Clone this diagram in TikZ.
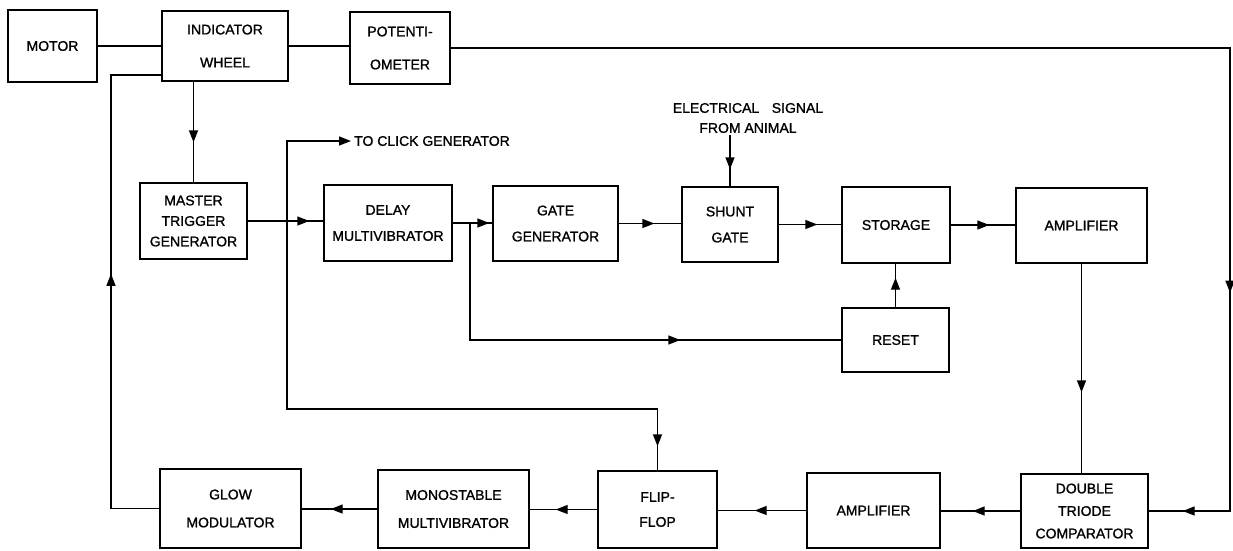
\documentclass[tikz,border=0pt]{standalone}
\usepackage{fontspec}
\setmainfont{Liberation Sans}[FakeBold=1.2]
\usetikzlibrary{arrows.meta,decorations.markings}
\begin{document}
\begin{tikzpicture}[x=1pt,y=-1pt,
  box/.style={draw, line width=1.4pt, inner sep=0pt, align=center,
              font=\fontsize{14}{26}\selectfont},
  wire/.style={line width=1.4pt},
  arr/.style={wire, postaction={decorate},
     decoration={markings, mark=at position #1 with {\arrow{Triangle[length=12pt,width=9pt]}}}},
  arrtwo/.style 2 args={wire, postaction={decorate},
     decoration={markings,
       mark=at position #1 with {\arrow{Triangle[length=12pt,width=9pt]}},
       mark=at position #2 with {\arrow{Triangle[length=12pt,width=9pt]}}}},
  lbl/.style={inner sep=2pt, align=center, font=\fontsize{14}{20}\selectfont}
]
\useasboundingbox (0,0) rectangle (1233,550);

% top row
\node[box, minimum width=89pt, minimum height=72pt] (motor) at (52.5,46) {MOTOR};
\node[box, minimum width=126pt, minimum height=70pt, font=\fontsize{14}{33}\selectfont] (indw) at (225,46) {INDICATOR\\WHEEL};
\node[box, minimum width=100pt, minimum height=72pt, font=\fontsize{14}{33}\selectfont] (pot) at (400,48) {POTENTI-\\OMETER};

% middle row
\node[box, minimum width=107pt, minimum height=76pt, font=\fontsize{14}{20.5}\selectfont] (master) at (193.5,221) {MASTER\\TRIGGER\\GENERATOR};
\node[box, minimum width=128pt, minimum height=76pt] (delay) at (388,223) {DELAY\\MULTIVIBRATOR};
\node[box, minimum width=125pt, minimum height=75pt] (gate) at (555.5,223.5) {GATE\\GENERATOR};
\node[box, minimum width=96pt, minimum height=75pt] (shunt) at (730,224.5) {SHUNT\\GATE};
\node[box, minimum width=108pt, minimum height=76pt] (storage) at (896,225) {STORAGE};
\node[box, minimum width=131pt, minimum height=75pt] (amp1) at (1081.5,225.5) {AMPLIFIER};
\node[box, minimum width=107pt, minimum height=64pt] (reset) at (895.5,340) {RESET};

% bottom row
\node[box, minimum width=141pt, minimum height=79pt, font=\fontsize{14}{28}\selectfont] (glow) at (230.5,508.5) {GLOW\\MODULATOR};
\node[box, minimum width=151pt, minimum height=78pt, font=\fontsize{14}{28}\selectfont] (mono) at (453.5,509) {MONOSTABLE\\MULTIVIBRATOR};
\node[box, minimum width=119pt, minimum height=77pt, font=\fontsize{14}{25}\selectfont] (flip) at (657.5,509.5) {FLIP-\\FLOP};
\node[box, minimum width=133pt, minimum height=75pt] (amp2) at (873.5,510.5) {AMPLIFIER};
\node[box, minimum width=127pt, minimum height=74pt, font=\fontsize{14}{22.5}\selectfont] (comp) at (1084.5,511) {DOUBLE\\TRIODE\\COMPARATOR};

% labels
\node[lbl] (sig) at (748,118) {ELECTRICAL\hspace{0.9em}SIGNAL\\FROM ANIMAL};
\node[lbl, anchor=west, inner sep=3pt] (click) at (351,141) {TO CLICK GENERATOR};

% coordinates
\coordinate (rc) at (1230,48);
\coordinate (fbt) at (111,75);
\coordinate (j1) at (287,221);
\coordinate (cb) at (287,409);
\coordinate (j2) at (470,223);

% connectors
\draw[wire] (motor.east) -- (indw.west);
\draw[wire] (indw.east) -- (pot.west |- indw.east);
\draw[arrtwo={1024pt}{-34pt}] (pot.east) -- (rc) -- (rc |- comp.east) -- (comp.east);
\draw[arr=-40pt] (master.north |- indw.south) -- (master.north);
\draw[arr=283pt] (glow.west) -| (fbt) -- (fbt -| indw.west);
\draw[arr=-14pt] (master.east) -- (master.east -| delay.west);
\draw[wire,-{Triangle[length=12pt,width=9pt]}] (j1) |- (click.west);
\draw[arr=-24pt] (j1) -- (cb) -| (flip.north);
\draw[arr=-3pt] (delay.east) -- (delay.east -| gate.west);
\draw[arr=-161pt] (j2) |- (reset.west);
\draw[arr=-27pt] (gate.east) -- (gate.east -| shunt.west);
\draw[arr=-17pt] (shunt.north |- sig.south) -- (shunt.north);
\draw[arr=-24pt] (shunt.east) -- (shunt.east -| storage.west);
\draw[arr=-14pt] (reset.north) -- (reset.north |- storage.south);
\draw[arr=-26pt] (storage.east) -- (storage.east -| amp1.west);
\draw[arr=-81pt] (amp1.south) -- (amp1.south |- comp.north);
\draw[arr=-32pt] (comp.west) -- (comp.west -| amp2.east);
\draw[arr=-37pt] (amp2.west) -- (amp2.west -| flip.east);
\draw[arr=-26pt] (flip.west) -- (flip.west -| mono.east);
\draw[arr=-29pt] (mono.west) -- (mono.west -| glow.east);
\end{tikzpicture}
\end{document}
